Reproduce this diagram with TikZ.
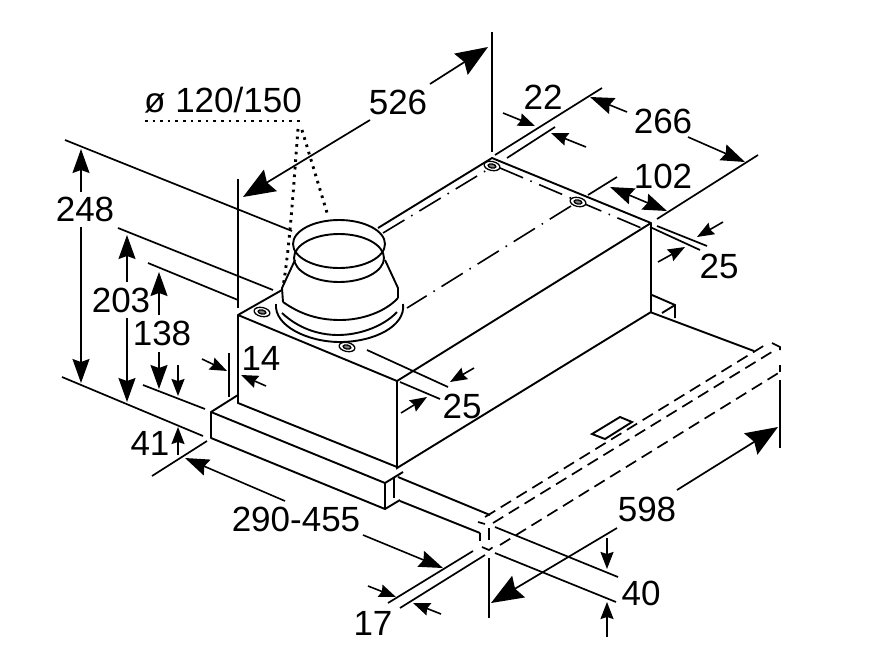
\documentclass[tikz,border=0pt]{standalone}
\usepackage{fontspec}
\setmainfont{Liberation Sans}
\usetikzlibrary{arrows.meta}

\tikzset{
  dimlabel/.style={inner sep=0pt, font=\fontsize{35}{35}\selectfont},
  outline/.style={line width=1.9pt, black},
  extline/.style={line width=1.7pt, black},
  centerline/.style={line width=1.6pt, black, dash pattern=on 25pt off 8pt on 1.5pt off 8pt},
  hidden/.style={line width=1.7pt, black, dash pattern=on 12pt off 6.5pt},
  dotline/.style={line width=2.9pt, black, dash pattern=on 2.6pt off 5pt},
  small/.style={line width=1.6pt, -{Stealth[length=17pt,width=13pt,inset=2pt,black]}},
  medium/.style={line width=1.6pt, -{Stealth[length=24pt,width=17pt,inset=3pt,black]}},
  both/.style={line width=1.6pt, {Stealth[length=24pt,width=17pt,inset=3pt,black]}-{Stealth[length=24pt,width=17pt,inset=3pt,black]}},
  large/.style={line width=1.7pt, -{Stealth[length=32pt,width=25pt,inset=4pt,black]}}
}

\begin{document}
\begin{tikzpicture}[x=1pt,y=-1pt]
\useasboundingbox (0,0) rectangle (872,659);

\begin{scope}[every node/.style={dimlabel}]
  \node (dia) at (223,100) {ø 120/150};
  \node (l526) at (398,102) {526};
  \node (l248) at (85,209) {248};
  \node (l203) at (121,300) {203};
  \node (l138) at (162,333) {138};
  \node (l14) at (261,358) {14};
  \node (l22) at (543,97) {22};
  \node (l266) at (663,121) {266};
  \node (l102) at (663,176) {102};
  \node (l25a) at (719,266) {25};
  \node (l25b) at (462,406) {25};
  \node (l41) at (150,443) {41};
  \node (l290) at (296,519) {290-455};
  \node (l17) at (373,623) {17};
  \node (l598) at (647,509) {598};
  \node (l40) at (641,593) {40};
\end{scope}

% housing
\draw[outline, line join=round] (282,290) -- (238,315) -- (397,381) -- (651,223) -- (492,158) -- (378,228);
\draw[outline] (238,315) -- (238,403) -- (397,467);
\draw[outline] (397,381) -- (397,468) -- (651,312) -- (651,223);
\draw[outline] (652,295) -- (675,305) -- (675,318);
\draw[outline] (662,313) -- (675,305);

% rail front piece
\draw[outline, line join=round] (238,395) -- (211,412) -- (211,438) -- (385,509) -- (385,483) -- (211,412);
\draw[outline] (385,483) -- (403,472);
\draw[outline] (385,509) -- (400,500);
\draw[outline] (394,477) -- (394,498);
\draw[outline] (398,477) -- (490,515);
\draw[outline] (400,501) -- (480,533);
\draw[outline] (650,312) -- (754,351);
\draw[outline] (592,434) -- (620,417) -- (632,422) -- (605,439) -- cycle;

% hidden cover
\draw[hidden] (485,517) -- (765,345);
\draw[hidden] (493,523) -- (775,350);
\draw[hidden] (500,545) -- (780,372);
\draw[hidden] (772,343) -- (780,347) -- (780,356);
\draw[hidden] (780,365) -- (780,372);
\draw[hidden] (478,522) -- (485,524);
\draw[hidden] (489,528) -- (489,541);
\draw[hidden] (480,533) -- (480,541);
\draw[hidden] (482,547) -- (489,550) -- (493,547);

% center lines
\draw[centerline] (383,233) -- (487,170);
\draw[centerline] (500,168) -- (646,230);
\draw[centerline] (571,206) -- (407,308);
\draw[extline] (367,350) -- (448,387);
\draw[extline] (400,382) -- (440,399);

% bolts
\foreach \bx/\by in {262/312, 347/347, 492/166, 578/202}{
  \draw[line width=1.3pt, fill=white, rotate around={-12:(\bx,\by)}] (\bx,\by) ellipse (8pt and 4.5pt);
  \draw[line width=1.3pt, fill=gray, rotate around={-12:(\bx,\by)}] (\bx,\by) ellipse (4pt and 2pt);
}

% duct
\draw[outline] (339,244) ellipse (46pt and 24pt);
\draw[outline] (339,258) ellipse (45pt and 24pt);
\draw[outline] (295,260) -- (282,288) -- (283,302);
\draw[outline] (385,260) -- (398,288) -- (398,298);
\draw[outline] (283,302) .. controls (300,314) and (318,320) .. (340,320) .. controls (362,320) and (385,312) .. (398,298);
\draw[outline] (276,304) .. controls (274,326) and (308,342) .. (340,342) .. controls (374,342) and (406,326) .. (403,304);
\draw[outline] (282,313) .. controls (298,328) and (318,335) .. (338,335) .. controls (360,335) and (384,326) .. (397,312);

% diameter leader
\draw[dotline] (145,121) -- (300,121);
\draw[dotline] (298,129) .. controls (294,180) and (290,245) .. (283,287);
\draw[dotline] (302,130) -- (328,216);

% extension lines
\draw[extline] (65,140) -- (292,231);
\draw[extline] (118,228) -- (273,290);
\draw[extline] (148,263) -- (238,300);
\draw[extline] (238,179) -- (238,308);
\draw[extline] (62,377) -- (203,436);
\draw[extline] (143,385) -- (205,409);
\draw[extline] (152,476) -- (207,441);
\draw[extline] (229,353) -- (229,397);
\draw[extline] (492,32) -- (492,152);
\draw[extline] (495,155) -- (602,88);
\draw[extline] (507,158) -- (555,127);
\draw[extline] (588,195) -- (617,177);
\draw[extline] (657,219) -- (758,155);
\draw[extline] (657,226) -- (707,246);
\draw[extline] (650,227) -- (700,250);
\draw[extline] (388,603) -- (473,551);
\draw[extline] (400,608) -- (485,555);
\draw[extline] (495,527) -- (618,577);
\draw[extline] (495,553) -- (616,602);
\draw[extline] (780,380) -- (780,448);
\draw[extline] (489,558) -- (489,618);

% dimension arrows
\draw[large] (370,120) -- (243,197);
\draw[large] (430,84) -- (488,47);
\draw[large] (677,490) -- (778,427);
\draw[large] (617,528) -- (491,603);
\draw[medium] (81,192) -- (81,149);
\draw[medium] (81,227) -- (81,383);
\draw[medium] (127,282) -- (127,235);
\draw[medium] (127,318) -- (127,402);
\draw[medium] (159,315) -- (159,272);
\draw[medium] (159,352) -- (159,389);
\draw[small] (178,365) -- (178,396);
\draw[small] (178,455) -- (178,427);
\draw[small] (202,359) -- (227,371);
\draw[small] (266,386) -- (241,375);
\draw[small] (503,113) -- (535,126);
\draw[small] (586,147) -- (551,133);
\draw[medium] (627,112) -- (590,97);
\draw[medium] (688,137) -- (745,162);
\draw[both] (610,187) -- (667,211);
\draw[small] (723,222) -- (697,237);
\draw[small] (658,262) -- (685,247);
\draw[small] (474,368) -- (450,382);
\draw[small] (401,413) -- (427,397);
\draw[medium] (285,501) -- (185,458);
\draw[medium] (363,535) -- (443,568);
\draw[small] (368,586) -- (396,597);
\draw[small] (441,614) -- (413,603);
\draw[small] (607,538) -- (607,569);
\draw[small] (607,637) -- (607,602);

\end{tikzpicture}
\end{document}
